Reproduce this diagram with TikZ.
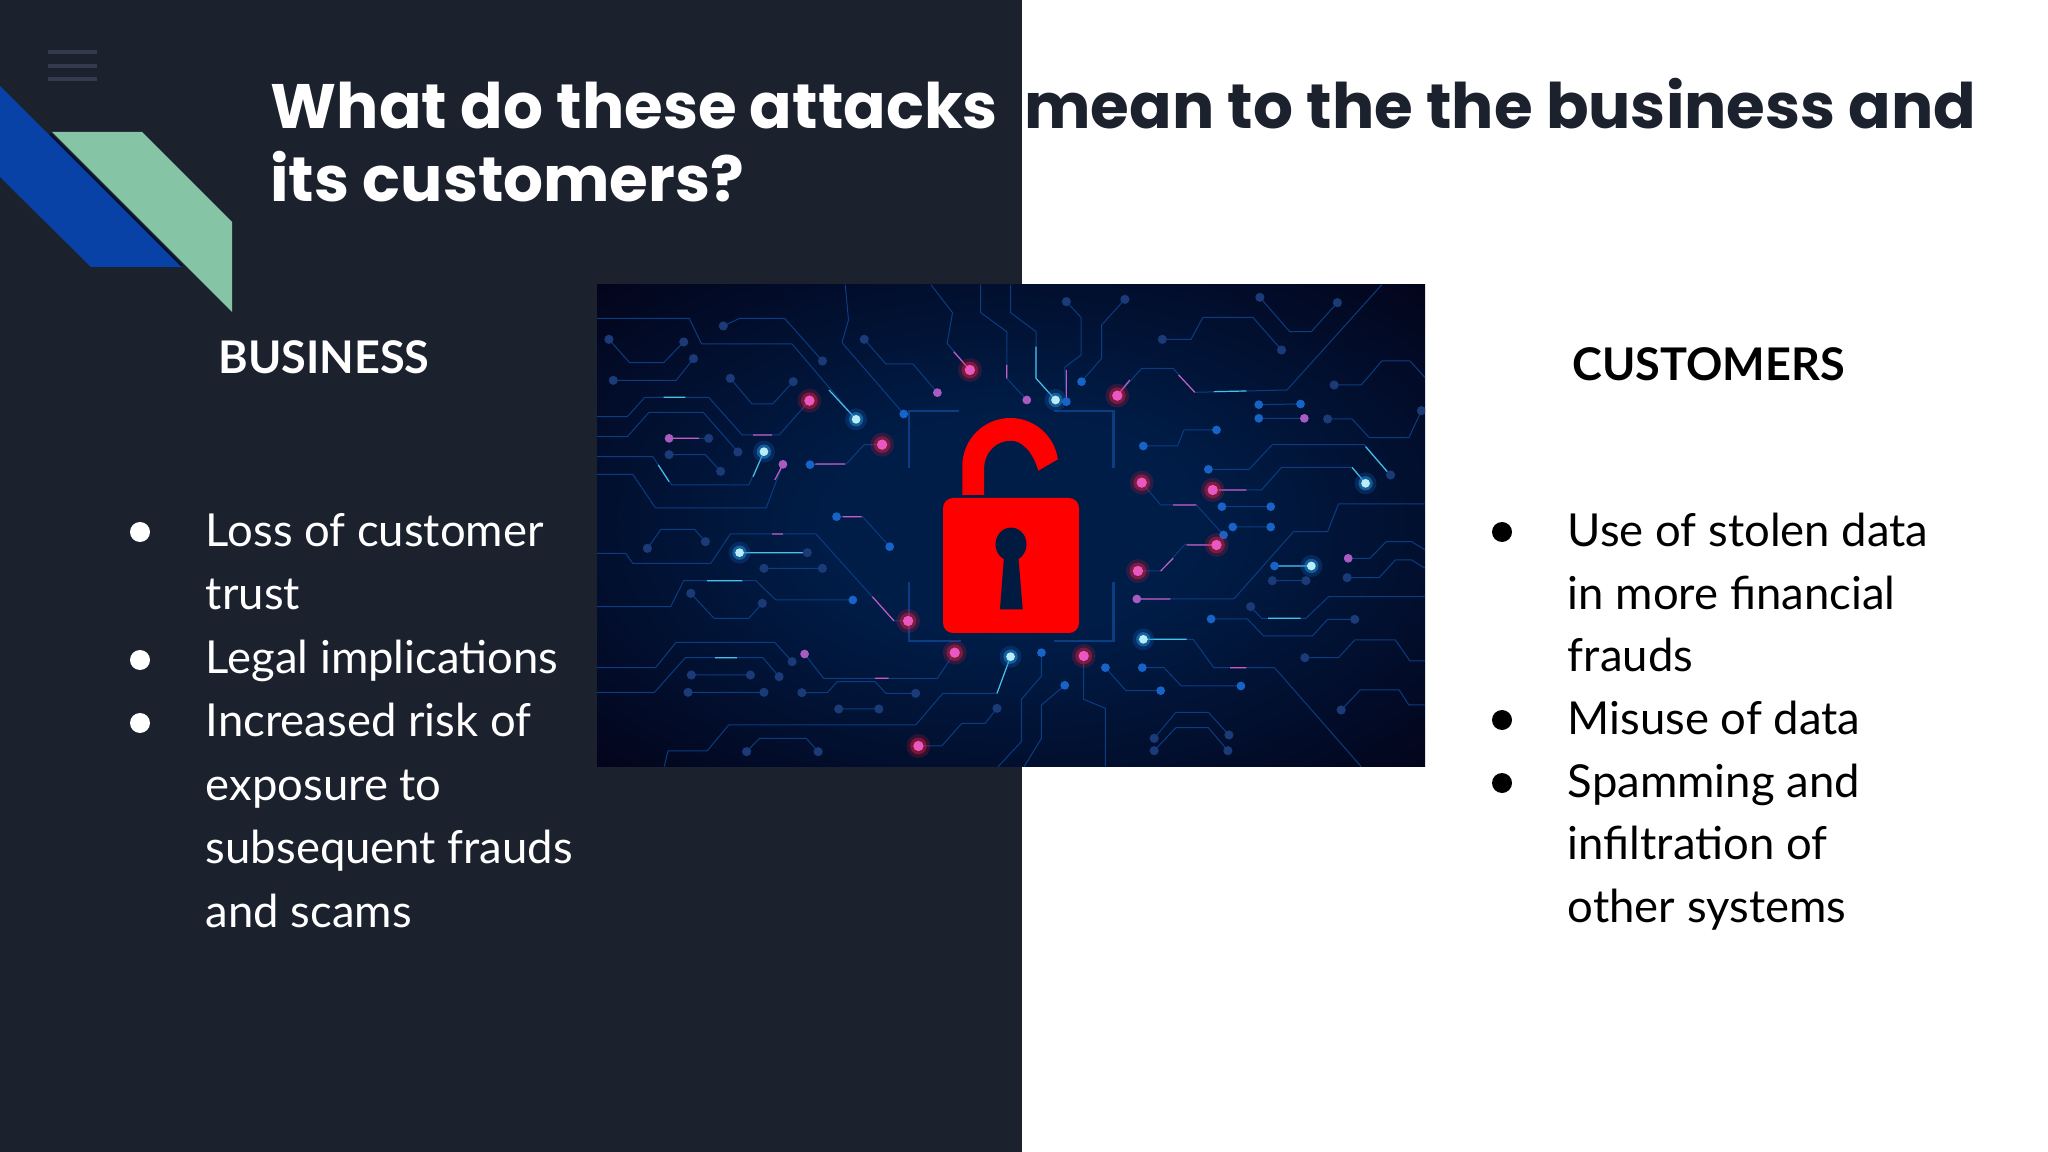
\documentclass[tikz,border=0pt]{standalone}
\usepackage{fontspec}
\setmainfont{Lato}
\newfontfamily\headfont{Poppins}
\usetikzlibrary{positioning}

\definecolor{slatebg}{HTML}{1C212E}
\definecolor{menubar}{HTML}{343B4F}
\definecolor{ribbonblue}{HTML}{0942A6}
\definecolor{ribbongreen}{HTML}{85C5A5}
\definecolor{glowcore}{HTML}{001D48}
\definecolor{glowrim}{HTML}{03041A}
\definecolor{tracedim}{HTML}{1B3A78}
\definecolor{traceblue}{HTML}{1763C8}
\definecolor{tracepink}{HTML}{E858C0}
\definecolor{tracecyan}{HTML}{50D0F0}
\definecolor{lockred}{HTML}{FE0000}
\definecolor{holeblue}{HTML}{001A40}

\pgfdeclareradialshading{circuitglow}{\pgfpoint{0bp}{0bp}}{%
  color(0bp)=(glowcore); color(11bp)=(glowcore); color(36bp)=(glowrim); color(100bp)=(glowrim)}

\tikzset{
  headline/.style={font=\headfont\fontsize{31.5}{37}\selectfont\bfseries, inner sep=0pt, anchor=base west},
  columnhead/.style={font=\fontsize{22.6}{27}\selectfont\bfseries, inner sep=0pt, anchor=base west},
  itemlist/.style={font=\fontsize{22.8}{#1}\selectfont, inner sep=0pt, align=left, anchor=north west},
  itemdot/.style={circle, fill=#1, minimum size=10bp, inner sep=0pt},
  trace/.style={draw=traceblue!45!glowcore, line width=0.5pt, line join=round},
  tracepad/.style={draw=traceblue!85!glowcore, line width=1.3pt, line cap=round},
  hotpink/.style={draw=tracepink!85!traceblue, line width=0.6pt},
  hotcyan/.style={draw=tracecyan!85!traceblue, line width=0.6pt}
}

\begin{document}
\begin{tikzpicture}[x=0.5bp, y=-0.5bp]
  \useasboundingbox (0,0) rectangle (2048,1152);
  % backgrounds
  \fill[white] (-4,-4) rectangle (2052,1156);
  \fill[slatebg] (-4,-4) rectangle (1022,1156);

  % menu glyph and ribbons
  \foreach \y in {52,66,79}
    \fill[menubar] (48,\y-2.2) rectangle (97,\y+2.2);
  \fill[ribbonblue] (0,86) -- (182,267) -- (91,267) -- (0,177) -- cycle;
  \draw[glowrim!80!ribbonblue, line width=1pt] (50,134) -- (182,266);
  \fill[ribbongreen] (52,132) -- (142,132) -- (232,222) -- (232,312) -- cycle;

  % title, white on the dark half, dark on the white half
  \node[headline, text=white] (titleleft) at (270.5,128.3) {What do these attacks};
  \node[headline, text=slatebg] (titleright) at (1024,128.3) {mean to the the business and};
  \node[headline, text=white] (titlesecond) at (270,201.3) {its customers?};

  % the circuit picture
  \begin{scope}
    \clip (597,285) rectangle (1425,766.5);
    \shade[shading=circuitglow] (597,285) rectangle (1425,766.5);
    \begin{scope}[shift={(590.5,280)}, x=0.271bp, y=-0.16667bp]
      % socket corners
      \draw[tracepad, draw=traceblue!45!glowcore, line cap=butt]
        (588,565) -- (588,393) -- (680,393) (855,393) -- (965,393) -- (965,565)
        (588,905) -- (588,1083) -- (684,1083) (855,1083) -- (965,1083) -- (965,905);
      % upper left
      \draw[trace]
        (12,115) -- (182,115) -- (205,192) -- (372,192) -- (490,418)
        (245,138) -- (275,115) -- (358,115) -- (428,243)
        (34,178) -- (72,248) -- (135,248) -- (172,186)
        (42,301) -- (158,301) -- (190,236)
        (258,295) -- (298,372) -- (336,372) -- (374,305)
        (12,410) -- (68,410) -- (100,352) -- (218,352) -- (280,465) -- (348,465) -- (404,362)
        (12,470) -- (68,470) -- (108,397) -- (208,397) -- (272,516)
        (145,475) -- (218,475)
        (145,524) -- (212,524) -- (240,574)
        (12,530) -- (115,530) -- (150,615) -- (292,615) -- (320,515)
        (12,583) -- (78,583) -- (120,684) -- (324,684) -- (355,553)
        (505,178) -- (545,252) -- (595,252) -- (640,338)
        (470,14) -- (476,120) -- (464,188) -- (578,402)
        (628,14) -- (668,98) -- (658,190) -- (700,270)
        (405,554) -- (472,552) -- (505,494) -- (538,494);
      % top centre
      \draw[trace]
        (720,14) -- (720,98) -- (768,155) -- (768,295) -- (805,360)
        (775,14) -- (775,98) -- (822,155) -- (822,295) -- (858,360)
        (878,65) -- (905,112) -- (905,225) -- (875,262) -- (878,365)
        (986,58) -- (943,135) -- (943,235) -- (906,305);
      % upper right
      \draw[trace]
        (972,347) -- (1017,265) -- (1075,265) -- (1115,337) -- (1285,330) -- (1460,14)
        (1055,178) -- (1108,178) -- (1130,112) -- (1222,112) -- (1275,210)
        (1235,52) -- (1290,155) -- (1330,155) -- (1378,68)
        (1372,315) -- (1422,315) -- (1460,243) -- (1512,243) -- (1540,293)
        (1233,374) -- (1310,372) (1233,415) -- (1317,415)
        (1360,417) -- (1405,417) -- (1437,473) -- (1510,473) -- (1533,392)
        (1020,498) -- (1083,498) -- (1095,450) -- (1155,450)
        (1140,568) -- (1215,568) -- (1258,494) -- (1428,494) -- (1476,585)
        (1148,630) -- (1238,630) -- (1275,562) -- (1405,562) -- (1430,610)
        (1017,608) -- (1052,675) -- (1118,675) -- (1168,765)
        (1165,680) -- (1255,680) (1185,741) -- (1255,741);
      % lower right
      \draw[trace]
        (1010,873) -- (1052,873) -- (1097,793) -- (1155,795)
        (1008,957) -- (1187,957) -- (1297,755) -- (1360,755) -- (1380,672) -- (1540,672)
        (1262,858) -- (1330,858) (1258,902) -- (1320,902)
        (1398,835) -- (1438,835) -- (1468,785) -- (1515,785) -- (1540,810)
        (1396,893) -- (1455,893) -- (1485,840) -- (1515,840) -- (1540,865)
        (1218,980) -- (1238,1015) -- (1320,1015) -- (1362,950) -- (1540,950)
        (1145,1017) -- (1212,1017) -- (1242,1068) -- (1332,1068) -- (1360,1018) -- (1410,1018)
        (1020,1078) -- (1112,1078) -- (1150,1163) -- (1262,1163) -- (1422,1460)
        (1318,1133) -- (1380,1133) -- (1410,1080) -- (1485,1080) -- (1512,1143) -- (1540,1143)
        (1018,1163) -- (1058,1163) -- (1090,1218) -- (1200,1218)
        (950,1163) -- (988,1232) -- (1052,1232)
        (910,1128) -- (910,1258) -- (950,1285) -- (950,1460)
        (875,1216) -- (832,1275) -- (832,1375) -- (800,1460)
        (832,1118) -- (832,1188) -- (795,1258) -- (795,1385) -- (752,1460)
        (1385,1290) -- (1420,1230) -- (1492,1230) -- (1510,1275) -- (1540,1275)
        (1040,1375) -- (1080,1297) -- (1140,1297) -- (1178,1365)
        (1040,1412) -- (1080,1343) -- (1140,1343) -- (1176,1412);
      % lower left
      \draw[trace]
        (12,820) -- (65,820) -- (78,850) -- (222,850) -- (258,762) -- (416,762) -- (560,1023) -- (585,1023)
        (105,805) -- (130,748) -- (192,748) -- (212,785)
        (275,818) -- (400,818) (320,865) -- (428,865)
        (12,980) -- (148,980) -- (172,902) -- (305,902) -- (342,960) -- (484,960)
        (185,940) -- (228,1015) -- (292,1015) -- (317,970)
        (454,710) -- (502,710) -- (552,800)
        (12,1163) -- (120,1163) -- (158,1087) -- (340,1087) -- (372,1145)
        (12,1237) -- (118,1237) -- (175,1133) -- (318,1133) -- (348,1190)
        (186,1185) -- (295,1185) (180,1237) -- (320,1237)
        (395,1122) -- (430,1195) -- (640,1195) -- (672,1118)
        (390,1238) -- (437,1238) -- (455,1205) -- (525,1205) -- (545,1240) -- (600,1240)
        (458,1287) -- (532,1287)
        (775,1130) -- (750,1240) -- (650,1240) -- (600,1335) -- (255,1335) -- (215,1413) -- (143,1413) -- (136,1460)
        (605,1398) -- (648,1398) -- (685,1330) -- (728,1330) -- (750,1285)
        (288,1415) -- (312,1375) -- (398,1375) -- (420,1415);
      % lit stretches
      \draw[hotpink]
        (150,475) -- (200,475) (300,465) -- (335,465) (670,215) -- (700,270) (768,255) -- (768,295)
        (878,270) -- (878,365) (1085,285) -- (1115,337) (1160,630) -- (1210,630) (1075,675) -- (1118,675)
        (1052,873) -- (1075,835) (1100,795) -- (1155,795) (1015,957) -- (1070,957) (335,762) -- (355,762)
        (415,552) -- (470,552) (520,950) -- (560,1023) (465,710) -- (500,710) (525,1195) -- (550,1195)
        (1180,1163) -- (1210,1163) (340,600) -- (355,553) (975,340) -- (995,300);
      \draw[hotcyan]
        (440,330) -- (490,418) (125,555) -- (145,605) (300,590) -- (320,515) (822,200) -- (822,295)
        (822,295) -- (858,360) (135,352) -- (175,352) (1430,500) -- (1470,575) (1405,562) -- (1430,610)
        (1150,335) -- (1210,333) (280,818) -- (400,818) (1265,858) -- (1330,858) (1020,1078) -- (1100,1078)
        (230,1133) -- (270,1133) (215,902) -- (280,902) (750,1240) -- (775,1130) (1250,1015) -- (1310,1015);
      % pads
      \foreach \x/\y in {34/178,172/186,190/236,42/301,245/138,258/295,374/305,428/243,505/178,272/516,
          240/574,145/524,218/475,878/65,986/58,1055/178,1275/210,1235/52,1378/68,1372/315,1533/392,
          1360/417,1476/585,105/805,212/785,400/818,320/865,428/865,185/940,317/970,1385/1290,1040/1375,
          1178/1365,1040/1412,1176/1412,288/1415,420/1415,1396/893,1258/902,1320/902,186/1185,295/1185,
          180/1237,320/1237,372/1145,348/1190,390/1238,600/1240,458/1287,532/1287,750/1285,1218/980,
          1410/1018,1318/1133}
        \fill[tracedim] (\x,\y) circle[radius=2.3pt];
      \foreach \x/\y in {578/402,906/305,878/365,1020/498,1155/450,1233/374,1310/372,1233/415,1140/568,
          1165/680,1255/680,1185/741,1255/741,1168/765,405/554,552/800,454/710,484/960,832/1118,875/1216,
          950/1163,1018/1163,1052/1232,1200/1218,1145/1017,1262/858}
        \fill[traceblue] (\x,\y) circle[radius=2.2pt];
      \foreach \x/\y in {640/338,805/360,355/553,395/1122,1317/415,1008/957,1398/835,145/475}
        \fill[tracepink!70!traceblue] (\x,\y) circle[radius=2.2pt];
      \foreach \x/\y in {404/362,538/494,700/270,972/347,1017/608,1148/630,1155/795,1010/873,586/1023,
          672/1118,910/1128,605/1398} {
        \fill[red!70!tracepink, opacity=0.18] (\x,\y) circle[radius=6pt];
        \fill[red!70!tracepink, opacity=0.4] (\x,\y) circle[radius=4.2pt];
        \fill[tracepink] (\x,\y) circle[radius=2.6pt];
      }
      \foreach \x/\y in {490/418,320/515,858/360,775/1130,275/818,1020/1078,1330/858,1430/610} {
        \fill[traceblue, opacity=0.25] (\x,\y) circle[radius=5.5pt];
        \fill[cyan!60!traceblue, opacity=0.5] (\x,\y) circle[radius=3.6pt];
        \fill[tracecyan!40!white] (\x,\y) circle[radius=2.2pt];
      }
    \end{scope}
    % the open padlock
    \fill[lockred] (962.3,495) -- (962.3,466) arc[start angle=180, end angle=8, radius=24bp]
      -- (1038.3,470.7) .. controls (1033,452) and (1022,440.7) .. (1011,440.7)
      .. controls (996,440.7) and (984,452) .. (984,470) -- (984,495) -- cycle;
    \fill[lockred, rounded corners=5pt] (943,498) rectangle (1079,633);
    \fill[holeblue] (1011,544.3) ellipse[x radius=7.75bp, y radius=8.35bp];
    \fill[holeblue] (1004,556) -- (1018.3,556) -- (1022.7,609.3) -- (1000,609.3) -- cycle;
  \end{scope}

  % left column
  \node[columnhead, text=white] (businesshead) at (218,374) {BUSINESS};
  \node[itemlist=31.87, text=white] (businessitems) at (205.5,513) {Loss of customer\\trust\\Legal implicat{}ions\\Increased risk of\\exposure to\\subsequent frauds\\and scams};
  \foreach \n/\y in {a/532,b/660,c/723}
    \node[itemdot=white] (businessdot\n) at (140,\y) {};

  % right column
  \node[columnhead, text=black] (customershead) at (1572,381) {CUSTOMERS};
  \node[itemlist=31.47, text=black] (customeritems) at (1567.5,512.5) {Use of stolen data\\in more financial\\frauds\\Misuse of data\\Spamming and\\infiltration of\\other systems};
  \foreach \n/\y in {a/532,b/720,c/783}
    \node[itemdot=black] (customerdot\n) at (1502,\y) {};
\end{tikzpicture}
\end{document}
